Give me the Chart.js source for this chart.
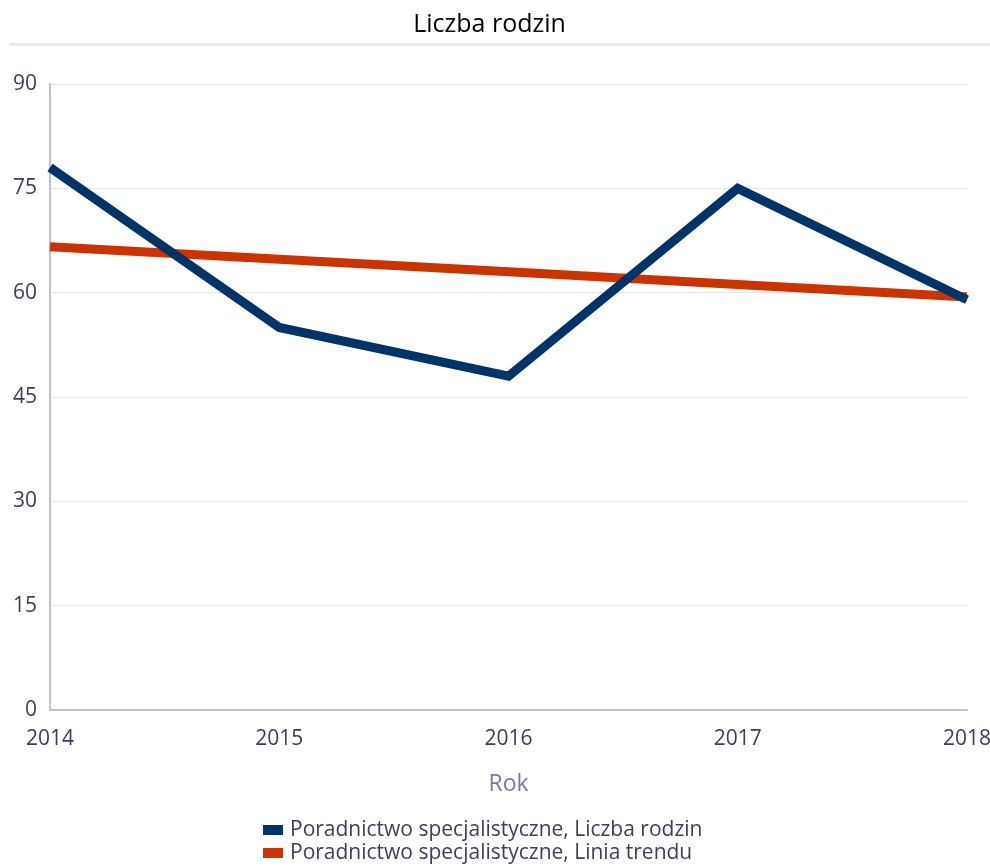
<!DOCTYPE html>
<html>
<head>
<meta charset="utf-8">
<title>Liczba rodzin</title>
<script src="https://cdn.jsdelivr.net/npm/chart.js@4/dist/chart.umd.min.js"></script>
<style>
  html, body { margin: 0; padding: 0; background: #fff; }
  #wrap { position: relative; width: 990px; height: 866px; }
  #legend { position: absolute; left: 263px; top: 817px; font: 21px "Open Sans", sans-serif; color: #3d3d5c; }
  #legend div { height: 23px; line-height: 23px; white-space: nowrap; }
  #legend span.box { display: inline-block; width: 20px; height: 10px; margin-right: 7px; vertical-align: 1px; }
</style>
</head>
<body>
<div id="wrap">
  <canvas id="rodzinyChart" width="990" height="866"></canvas>
  <div id="legend"></div>
</div>
<script>
var years = ['2014', '2015', '2016', '2017', '2018'];
var liczbaRodzin = [78, 55, 48, 75, 59];
var liniaTrendu = [66.6, 64.8, 63, 61.2, 59.4];
var yTicks = [0, 15, 30, 45, 60, 75, 90];
var seriesNames = ['Poradnictwo specjalistyczne, Liczba rodzin', 'Poradnictwo specjalistyczne, Linia trendu'];
var seriesColors = ['#003366', '#cc3300'];

(function () {
  var FONT = '"Open Sans", sans-serif';
  var TEXT = '#3d3d5c';

  // grey rule under the title
  var titleRule = {
    id: 'titleRule',
    afterDraw: function (chart) {
      var c = chart.ctx;
      c.save();
      c.fillStyle = '#ebebeb';
      c.fillRect(9, 43, chart.width - 9, 3);
      c.restore();
    }
  };

  var ctx = document.getElementById('rodzinyChart');
  new Chart(ctx, {
    type: 'line',
    data: {
      labels: years,
      datasets: [
        { label: seriesNames[0], data: liczbaRodzin, borderColor: seriesColors[0], backgroundColor: seriesColors[0], borderWidth: 9, pointRadius: 0, tension: 0, fill: false },
        { label: seriesNames[1], data: liniaTrendu, borderColor: seriesColors[1], backgroundColor: seriesColors[1], borderWidth: 9, pointRadius: 0, tension: 0, fill: false }
      ]
    },
    options: {
      responsive: false,
      animation: false,
      layout: { padding: { left: 0, right: 11, top: 0, bottom: 68 } },
      plugins: {
        legend: { display: false },
        tooltip: { enabled: false },
        title: {
          display: true,
          text: 'Liczba rodzin',
          color: '#000',
          font: { family: FONT, size: 25, weight: 'normal' },
          padding: { top: 10, bottom: 44 }
        }
      },
      scales: {
        x: {
          offset: false,
          afterFit: function (s) { s.paddingLeft = 0; s.paddingRight = 23; },
          grid: { display: false, drawTicks: false },
          border: { display: true, color: '#c0c0d8', width: 2 },
          ticks: { color: TEXT, font: { family: FONT, size: 21 }, padding: 16, maxRotation: 0 },
          title: { display: true, text: 'Rok', color: '#7a7a9e', font: { family: FONT, size: 23 }, padding: { top: 3, bottom: 0 } }
        },
        y: {
          min: 0,
          max: 90,
          afterFit: function (s) { s.width = 50; s.paddingTop = 0; s.paddingBottom = 0; },
          afterBuildTicks: function (s) { s.ticks = yTicks.map(function (v) { return { value: v }; }); },
          grid: { color: '#e6e6e6', drawTicks: false },
          border: { display: true, color: '#c0c0d8', width: 2 },
          ticks: { color: TEXT, font: { family: FONT, size: 21 }, padding: 13 }
        }
      }
    },
    plugins: [titleRule]
  });

  // html legend, two rows, left aligned
  var legend = document.getElementById('legend');
  seriesNames.forEach(function (name, i) {
    var row = document.createElement('div');
    var box = document.createElement('span');
    box.className = 'box';
    box.style.background = seriesColors[i];
    row.appendChild(box);
    row.appendChild(document.createTextNode(name));
    legend.appendChild(row);
  });
})();
</script>
</body>
</html>
